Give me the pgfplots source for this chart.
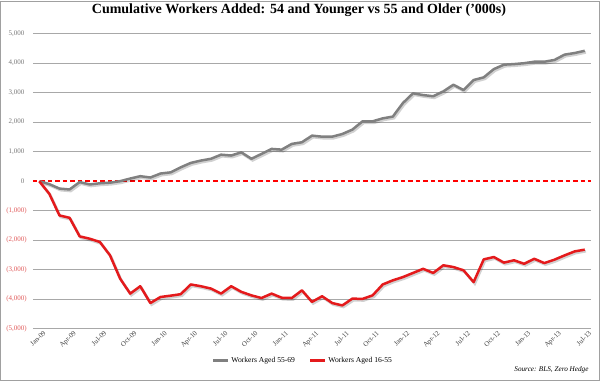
\documentclass[border=0pt]{standalone}
\usepackage{pgfplots}
\pgfplotsset{compat=1.18}
\usepackage{pgfplotstable}
\usepackage{fontspec}
\setmainfont{Liberation Serif}
\definecolor{grayline}{HTML}{808080}
\definecolor{redline}{HTML}{E41A1C}
\definecolor{gridc}{HTML}{A8A8A8}
\definecolor{neglab}{HTML}{E05A5A}
\definecolor{poslab}{HTML}{777777}
\definecolor{framec}{HTML}{A0A0A0}

% month index 0 = Jan-09 ... 54 = Jul-13
\pgfplotstableread{
i old young
0 0 0
1 -100 -430
2 -250 -1160
3 -280 -1240
4 -30 -1870
5 -110 -1950
6 -70 -2060
7 -50 -2510
8 0 -3300
9 90 -3810
10 170 -3560
11 125 -4130
12 260 -3925
13 300 -3880
14 470 -3830
15 620 -3500
16 700 -3560
17 760 -3640
18 900 -3810
19 870 -3560
20 980 -3750
21 760 -3870
22 925 -3960
23 1095 -3810
24 1070 -3950
25 1265 -3960
26 1320 -3700
27 1545 -4090
28 1510 -3900
29 1510 -4130
30 1600 -4210
31 1750 -3980
32 2030 -3990
33 2030 -3870
34 2130 -3500
35 2190 -3360
36 2650 -3250
37 2980 -3110
38 2920 -2970
39 2880 -3110
40 3045 -2850
41 3270 -2910
42 3090 -3020
43 3430 -3420
44 3520 -2650
45 3800 -2570
46 3950 -2760
47 3970 -2680
48 4000 -2800
49 4050 -2630
50 4050 -2775
51 4110 -2660
52 4290 -2515
53 4345 -2380
54 4420 -2320
}\datatable

\begin{document}
\begin{tikzpicture}
\begin{axis}[
  scale only axis,
  width=558bp, height=295bp,
  xmin=-0.62, xmax=54.62,
  ymin=-5000, ymax=5000,
  axis line style={draw=none},
  major tick length=0pt,
  ymajorgrids,
  grid style={gridc, line width=0.9bp},
  ytick={-5000,-4000,-3000,-2000,-1000,0,1000,2000,3000,4000,5000},
  yticklabels={
    {\color{neglab}(5,000)},{\color{neglab}(4,000)},{\color{neglab}(3,000)},
    {\color{neglab}(2,000)},{\color{neglab}(1,000)},
    {\color{poslab}0\hphantom{)}},{\color{poslab}1,000\hphantom{)}},{\color{poslab}2,000\hphantom{)}},
    {\color{poslab}3,000\hphantom{)}},{\color{poslab}4,000\hphantom{)}},{\color{poslab}5,000\hphantom{)}}},
  yticklabel style={font=\fontsize{7bp}{8bp}\selectfont, anchor=east, xshift=-2.7bp},
  xtick={0,3,...,54},
  xticklabels={Jan-09,Apr-09,Jul-09,Oct-09,Jan-10,Apr-10,Jul-10,Oct-10,Jan-11,Apr-11,Jul-11,Oct-11,Jan-12,Apr-12,Jul-12,Oct-12,Jan-13,Apr-13,Jul-13},
  xticklabel style={font=\fontsize{7bp}{8bp}\selectfont, text=black!75, rotate=45, anchor=north east, inner sep=0.5bp, xshift=2bp, yshift=-3bp},
  title={Cumulative Workers Added: 54 and Younger vs 55 and Older ('000s)},
  title style={at={(axis description cs:0.4767,1)}, anchor=center, yshift=18bp, font=\fontsize{14bp}{16bp}\selectfont\bfseries},
  legend style={at={(axis description cs:0.5,0)}, anchor=center, xshift=-9bp, yshift=-32bp, draw=none, fill=none,
    font=\rmfamily\fontsize{7.6bp}{9bp}\selectfont, legend columns=2,
    /tikz/every even column/.append style={column sep=12bp}},
  legend image code/.code={\draw[#1, line width=2.5bp] (0bp,0bp) -- (15bp,0bp);},
  clip=false,
]
% zero line (white underlay hides the 0 gridline)
\addplot[white, line width=2bp, forget plot] coordinates {(-0.62,0) (54.62,0)};
\addplot[red, solid, line width=1.5bp, dash pattern=on 4.5bp off 3bp, forget plot] coordinates {(-0.62,0) (54.62,0)};
% shadows
\addplot[black, opacity=0.18, line width=2.6bp, xshift=1.2bp, yshift=-1.6bp, forget plot] table[x=i, y=old] {\datatable};
\addplot[black, opacity=0.18, line width=2.6bp, xshift=1.2bp, yshift=-1.6bp, forget plot] table[x=i, y=young] {\datatable};
% series
\addplot[grayline, line width=2.5bp, line join=round] table[x=i, y=old] {\datatable};
\addlegendentry{Workers Aged 55-69}
\addplot[redline, line width=2.5bp, line join=round] table[x=i, y=young] {\datatable};
\addlegendentry{Workers Aged 16-55}
\end{axis}
\node[anchor=east, font=\fontsize{7.2bp}{8bp}\selectfont\itshape] at (559bp,-41bp) {Source: BLS, Zero Hedge};
\draw[framec, line width=1bp] (-32.5bp,-51.5bp) rectangle (566.5bp,327.5bp);
\end{tikzpicture}
\end{document}
